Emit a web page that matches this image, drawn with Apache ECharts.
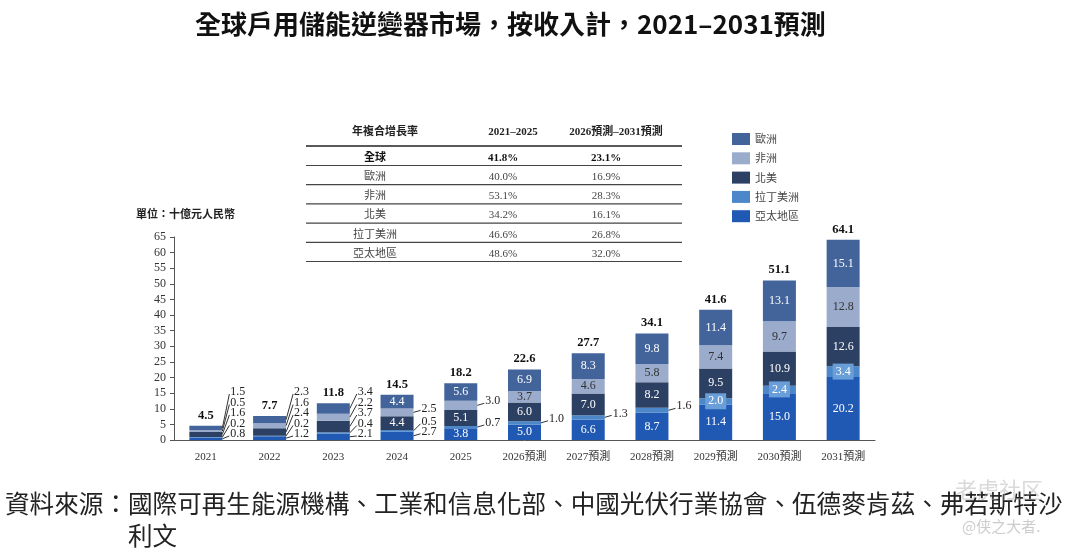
<!DOCTYPE html>
<html>
<head>
<meta charset="utf-8">
<script src="https://cdn.jsdelivr.net/npm/echarts@6/dist/echarts.min.js"></script>
<style>
  html, body { margin: 0; padding: 0; background: #fff; }
  #chart1 { width: 1080px; height: 557px; }
</style>
</head>
<body>
<div id="chart1"></div>
<script>
// data
const years = ['2021', '2022', '2023', '2024', '2025', '2026預測', '2027預測', '2028預測', '2029預測', '2030預測', '2031預測'];
const apac = [0.8, 1.2, 2.1, 2.7, 3.8, 5.0, 6.6, 8.7, 11.4, 15.0, 20.2];
const latam = [0.2, 0.2, 0.4, 0.5, 0.7, 1.0, 1.3, 1.6, 2.0, 2.4, 3.4];
const northAmerica = [1.6, 2.4, 3.7, 4.4, 5.1, 6.0, 7.0, 8.2, 9.5, 10.9, 12.6];
const africa = [0.5, 1.6, 2.2, 2.5, 3.0, 3.7, 4.6, 5.8, 7.4, 9.7, 12.8];
const europe = [1.5, 2.3, 3.4, 4.4, 5.6, 6.9, 8.3, 9.8, 11.4, 13.1, 15.1];
const totals = [4.5, 7.7, 11.8, 14.5, 18.2, 22.6, 27.7, 34.1, 41.6, 51.1, 64.1];

// CAGR table
const cagrHeader = ['年複合增長率', '2021–2025', '2026預測–2031預測'];
const cagrRegions = ['全球', '歐洲', '非洲', '北美', '拉丁美洲', '亞太地區'];
const cagr2125 = ['41.8%', '40.0%', '53.1%', '34.2%', '46.6%', '48.6%'];
const cagr2631 = ['23.1%', '16.9%', '28.3%', '16.1%', '26.8%', '32.0%'];

const serif = '"Liberation Serif", "Noto Sans CJK TC", serif';
const cjk = '"Noto Sans CJK TC", "Liberation Serif", sans-serif';

// stack order bottom -> top
const stackSeries = [
    { name: '亞太地區', data: apac, color: '#2059b3', text: '#fff' },
    { name: '拉丁美洲', data: latam, color: '#4c87c9', text: '#fff' },
    { name: '北美', data: northAmerica, color: '#2c4063', text: '#fff' },
    { name: '非洲', data: africa, color: '#9aabcb', text: '#333' },
    { name: '歐洲', data: europe, color: '#42649b', text: '#fff' }
];
// which segments get their label outside the bar (index into stackSeries)
const outsideLabels = [[0, 1, 2, 3, 4], [0, 1, 2, 3, 4], [0, 1, 2, 3, 4], [0, 1, 3], [1, 3], [1], [1], [1], [], [], []];

const barW = 33;

let series = stackSeries.map(function (s, k) {
    return {
        name: s.name,
        type: 'bar',
        stack: 'total',
        barWidth: barW,
        itemStyle: { color: s.color },
        label: {
            show: true,
            position: 'inside',
            color: s.text,
            fontFamily: serif,
            fontSize: 12,
            formatter: function (p) { return p.value.toFixed(1); }
        },
        data: s.data.map(function (v, i) {
            let item = { value: v };
            if (outsideLabels[i].indexOf(k) >= 0) {
                item.label = { show: false };
            } else if (k == 1) {
                item.label = { show: true, backgroundColor: '#6a9ed8', padding: [2, 3] };
            }
            return item;
        })
    };
});

// totals on top
series.push({
    name: 'total',
    type: 'bar',
    stack: 'total',
    barWidth: barW,
    data: totals.map(function () { return 0; }),
    label: {
        show: true,
        position: 'top',
        distance: 4,
        color: '#111',
        fontFamily: serif,
        fontWeight: 'bold',
        fontSize: 12.5,
        formatter: function (p) { return totals[p.dataIndex].toFixed(1); }
    }
});

// outside labels with leader lines
let outsideData = [];
for (let i = 0; i < years.length; i++) {
    outsideLabels[i].forEach(function (k) {
        let lo = 0;
        for (let j = 0; j < k; j++) lo += stackSeries[j].data[i];
        outsideData.push([i, lo, stackSeries[k].data[i], k]);
    });
}

let lastLabelY = {};   // keeps labels of one bar from overlapping
series.push({
    name: 'outside',
    type: 'custom',
    z: 5,
    encode: { x: 0, y: 1 },
    data: outsideData,
    renderItem: function (params, api) {
        const i = api.value(0), lo = api.value(1), v = api.value(2), k = api.value(3);
        const base = api.coord([i, 0]);
        const mid = api.coord([i, lo + v / 2]);
        const x0 = base[0] + barW / 2;
        let ly = (i <= 2) ? base[1] - 6 - 10.5 * k : mid[1] - 4;
        if (lastLabelY[i] !== undefined && ly > lastLabelY[i] - 10) ly = lastLabelY[i] - 10;
        lastLabelY[i] = ly;
        const lx = x0 + 8;
        return {
            type: 'group',
            children: [
                { type: 'line', shape: { x1: x0, y1: mid[1], x2: lx - 1, y2: ly + 2 }, style: { stroke: '#333', lineWidth: 1 } },
                { type: 'text', x: lx, y: ly, style: { text: v.toFixed(1), fill: '#222', font: '12px ' + serif, textAlign: 'left', textVerticalAlign: 'middle' } }
            ]
        };
    }
});

// table graphic
let graphics = [];
const colX = [375, 503, 606];
const headX = [385, 513, 616];
const rowY0 = 158, rowStep = 19.2;
cagrHeader.forEach(function (h, c) {
    graphics.push({ type: 'text', x: headX[c], y: 132, style: { text: h, font: 'bold 11px ' + serif, fill: '#222', textAlign: 'center', textVerticalAlign: 'middle' } });
});
graphics.push({ type: 'line', shape: { x1: 306, y1: 146, x2: 682, y2: 146 }, style: { stroke: '#222', lineWidth: 1.5 } });
cagrRegions.forEach(function (r, n) {
    const y = rowY0 + n * rowStep;
    const bold = n == 0 ? 'bold ' : '';
    const col = n == 0 ? '#111' : '#444';
    [r, cagr2125[n], cagr2631[n]].forEach(function (t, c) {
        graphics.push({ type: 'text', x: colX[c], y: y, style: { text: t, font: bold + '11px ' + serif, fill: col, textAlign: 'center', textVerticalAlign: 'middle' } });
    });
    graphics.push({ type: 'line', shape: { x1: 306, y1: y + 7.5, x2: 682, y2: y + 7.5 }, style: { stroke: '#444', lineWidth: 1.2 } });
});
// unit
graphics.push({ type: 'text', x: 136, y: 215, style: { text: '單位：十億元人民幣', font: 'bold 11px ' + serif, fill: '#222', textVerticalAlign: 'middle' } });
// source
graphics.push({ type: 'text', x: 5, y: 504, style: { text: '資料來源：國際可再生能源機構、工業和信息化部、中國光伏行業協會、伍德麥肯茲、弗若斯特沙', font: '24.6px ' + cjk, fill: '#222', textVerticalAlign: 'middle' } });
graphics.push({ type: 'text', x: 128, y: 536, style: { text: '利文', font: '24.6px ' + cjk, fill: '#222', textVerticalAlign: 'middle' } });
// watermark
graphics.push({ type: 'text', x: 955, y: 490, style: { text: '老虎社区', font: '22px "Noto Sans CJK SC"', fill: 'rgba(170,170,170,0.45)', textVerticalAlign: 'middle' } });
graphics.push({ type: 'text', x: 962, y: 526, style: { text: '@侠之大者.', font: '15px "Noto Sans CJK SC"', fill: 'rgba(170,170,170,0.6)', textVerticalAlign: 'middle' } });

let dom1 = document.getElementById('chart1');
let Chart1 = echarts.init(dom1);

let option1 = {
    animation: false,
    backgroundColor: '#fff',
    title: {
        text: '全球戶用儲能逆變器市場，按收入計，2021–2031預測',
        left: 190,
        top: 6,
        textStyle: { fontSize: 26, fontWeight: 'bold', color: '#111', fontFamily: cjk }
    },
    legend: {
        data: ['歐洲', '非洲', '北美', '拉丁美洲', '亞太地區'],
        orient: 'vertical',
        left: 727,
        top: 128,
        itemWidth: 18,
        itemHeight: 12,
        itemGap: 7.3,
        icon: 'rect',
        textStyle: { fontSize: 11, color: '#444', fontFamily: cjk, lineHeight: 12 }
    },
    grid: { left: 174, right: 205, top: 237, bottom: 117 },
    xAxis: {
        type: 'category',
        data: years,
        axisTick: { show: false },
        axisLine: { lineStyle: { color: '#555', width: 1 } },
        axisLabel: { fontSize: 11, color: '#333', fontFamily: serif, margin: 12 }
    },
    yAxis: {
        type: 'value',
        min: 0,
        max: 65,
        interval: 5,
        splitLine: { show: false },
        axisLine: { show: true, lineStyle: { color: '#555' } },
        axisTick: { show: true, length: 4, lineStyle: { color: '#555' } },
        axisLabel: { fontSize: 12, color: '#333', fontFamily: serif, margin: 8 }
    },
    graphic: graphics,
    series: series
};

Chart1.setOption(option1);
</script>
</body>
</html>
